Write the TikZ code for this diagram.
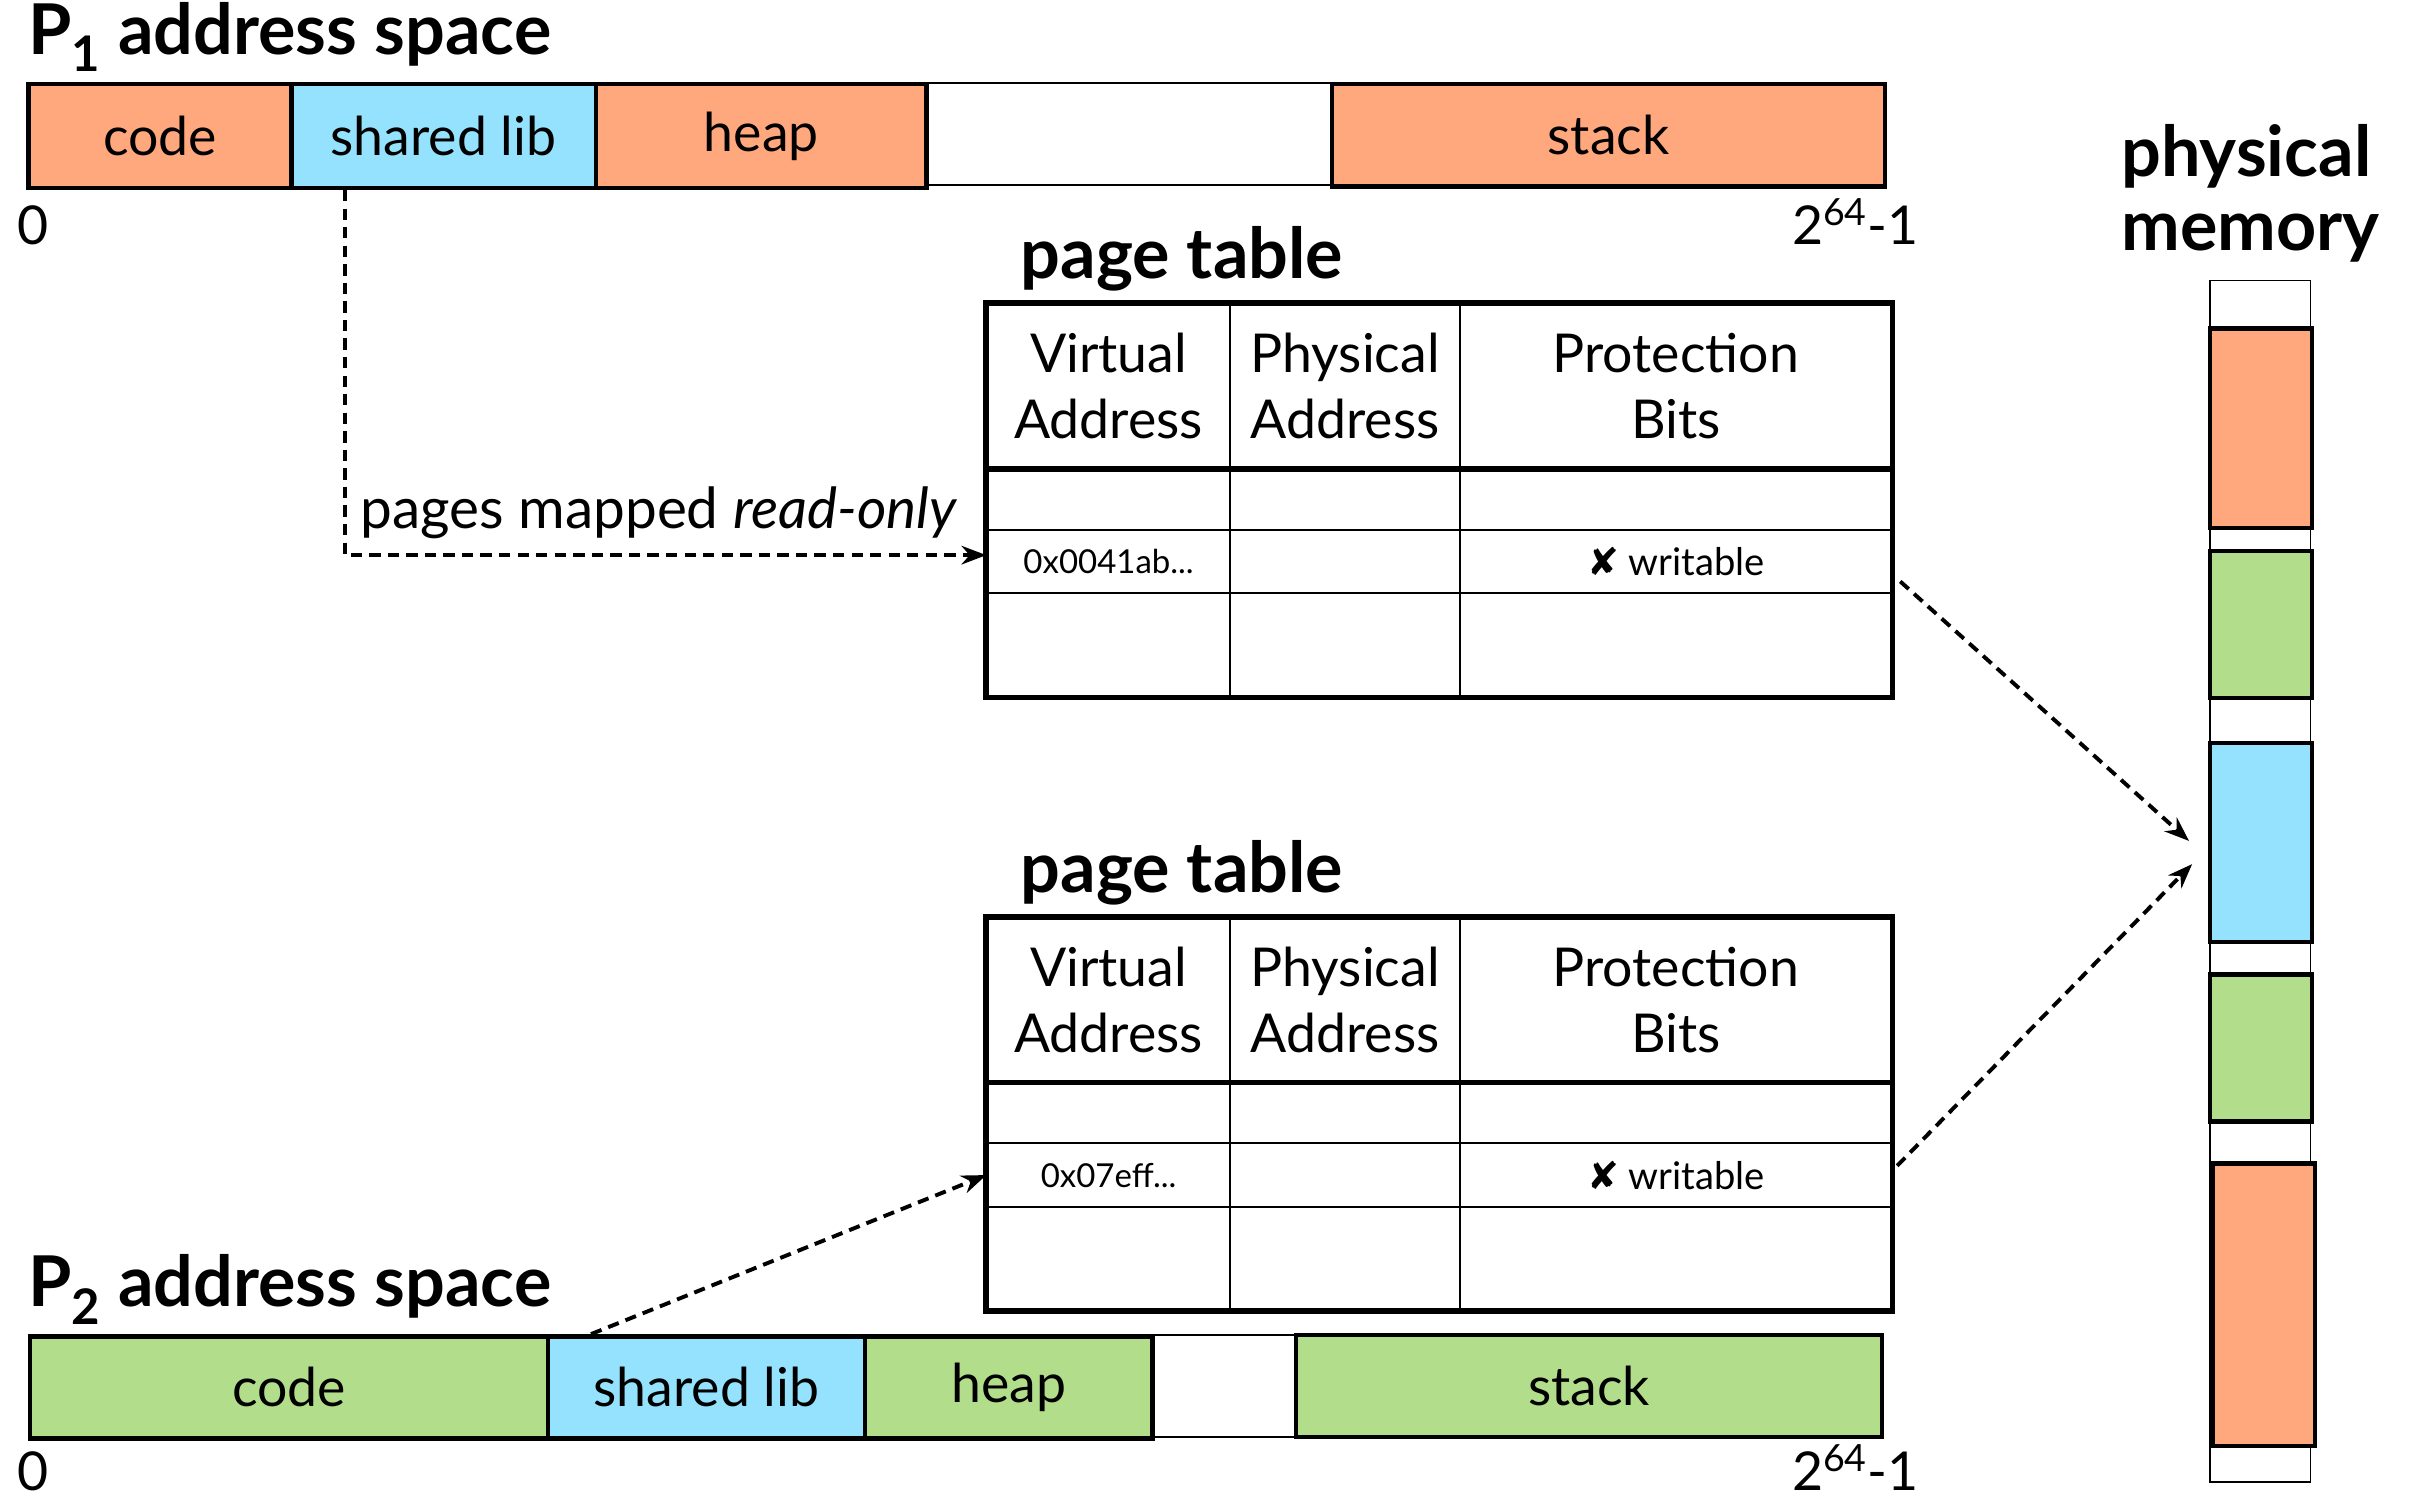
\documentclass[tikz,border=0pt]{standalone}
\usepackage{fontspec}
\setmainfont{Lato}
\newfontfamily\symfont{DejaVu Sans}
\usetikzlibrary{arrows.meta}
\definecolor{cOrange}{HTML}{FFA77D}
\definecolor{cBlue}{HTML}{94E2FD}
\definecolor{cGreen}{HTML}{B2DE8C}
\newcommand\ptable[3]{%
  \begin{scope}[shift={(0,#2)}]
    \node[cell, wd=157, ht=106] (#1h1) at (638,196) {Virtual\\Address};
    \node[cell, wd=149, ht=106] (#1h2) at (795,196) {Physical\\Address};
    \node[cell, wd=279, ht=106] (#1h3) at (944,196) {Protection\\Bits};
    \node[cell, wd=157, ht=40] (#1r1c1) at (638,302) {};
    \node[cell, wd=149, ht=40] (#1r1c2) at (795,302) {};
    \node[cell, wd=279, ht=40] (#1r1c3) at (944,302) {};
    \node[cell, wd=157, ht=41, font=\addrfont] (#1r2c1) at (638,342) {#3};
    \node[cell, wd=149, ht=41] (#1r2c2) at (795,342) {};
    \node[cell, wd=279, ht=41, font=\protfont] (#1r2c3) at (944,342) {{\symfont\bfseries ✘} writable};
    \node[cell, wd=157, ht=67] (#1r3c1) at (638,383) {};
    \node[cell, wd=149, ht=67] (#1r3c2) at (795,383) {};
    \node[cell, wd=279, ht=67] (#1r3c3) at (944,383) {};
    \draw[line width=2.8pt] (#1h1.north west) rectangle (#1r3c3.south east);
    \draw[line width=2.8pt] (#1h1.south west) -- (#1h3.south east);
    \node[titletext, anchor=base west] (#1title) at (660,180) {page table};
  \end{scope}}
\newcommand\addrfont{\fontsize{16}{19}\selectfont}
\newcommand\protfont{\fontsize{18.5}{22}\selectfont}
\begin{document}
\begin{tikzpicture}[x=0.75pt,y=-0.75pt,
  wd/.style={minimum width=#1*0.75pt},
  ht/.style={minimum height=#1*0.75pt},
  seg/.style={draw, line width=2.2pt, inner sep=0pt, anchor=north west, font=\fontsize{26}{30}\selectfont},
  gapbox/.style={draw, line width=0.8pt, inner sep=0pt, anchor=north west},
  cell/.style={draw, line width=0.9pt, inner sep=0pt, anchor=north west, align=center, font=\fontsize{26}{32}\selectfont},
  titletext/.style={inner sep=0pt, font=\bfseries\fontsize{34}{37}\selectfont},
  numtext/.style={inner sep=0pt, font=\fontsize{26}{30}\selectfont},
  pmbox/.style={draw, line width=2.2pt, inner sep=0pt, anchor=north west, wd=66},
  dasharrow/.style={line width=1.9pt, dash pattern=on 5.5pt off 3.5pt, -{Stealth[length=12pt,width=9pt]}}]
\useasboundingbox (0,0) rectangle (1568,972);
% P1 address space
\node[titletext, anchor=base west] (p1title) at (18,35) {P\textsubscript{1} address space};
\node[gapbox, wd=262, ht=66] (gap1) at (598,53) {};
\node[seg, fill=cOrange, wd=170, ht=67] (code1) at (17,53) {code};
\node[seg, fill=cBlue, wd=197, ht=67] (sl1) at (187,53) {shared lib};
\node[seg, fill=cOrange, wd=214, ht=67] (heap1) at (384,53) {heap};
\node[seg, fill=cOrange, wd=358, ht=66] (stack1) at (860,53) {stack};
\node[numtext, anchor=base west] (zero1) at (11,158) {0};
\node[numtext, anchor=base west] (max1) at (1159,158) {2\textsuperscript{64}-1};
% P2 address space
\node[titletext, anchor=base west] (p2title) at (18,845) {P\textsubscript{2} address space};
\node[gapbox, wd=93, ht=66] (gap2) at (744,863) {};
\node[seg, fill=cGreen, wd=335, ht=66] (code2) at (18,863) {code};
\node[seg, fill=cBlue, wd=205, ht=66] (sl2) at (353,863) {shared lib};
\node[seg, fill=cGreen, wd=186, ht=66] (heap2) at (558,863) {heap};
\node[seg, fill=cGreen, wd=379, ht=66] (stack2) at (837,862) {stack};
\node[numtext, anchor=base west] (zero2) at (11,964) {0};
\node[numtext, anchor=base west] (max2) at (1159,964) {2\textsuperscript{64}-1};
% page tables
\ptable{t1}{0}{0x0041ab...}
\ptable{t2}{397}{0x07eff...}
% physical memory
\node[titletext, anchor=north west, align=left, font=\bfseries\fontsize{34}{36}\selectfont] (pmtitle) at (1372,80) {physical\\memory};
\node[gapbox, wd=65, ht=777] (pm) at (1429,181) {};
\node[pmbox, fill=cOrange, ht=129] (pmO1) at (1428,211) {};
\node[pmbox, fill=cGreen, ht=95] (pmG1) at (1428,355) {};
\node[pmbox, fill=cBlue, ht=129] (pmB) at (1428,479) {};
\node[pmbox, fill=cGreen, ht=95] (pmG2) at (1428,629) {};
\node[pmbox, fill=cOrange, ht=183] (pmO2) at (1430,751) {};
% connectors
\draw[dasharrow] ([xshift=-48pt]sl1.south) |- ([yshift=3pt]t1r2c1.west);
\node[inner sep=0pt, anchor=base west, font=\fontsize{27.5}{31}\selectfont] (rolabel) at (233,342) {pages mapped \textit{read-only}};
\draw[dasharrow] ([xshift=-56pt]sl2.north) -- (t2r2c1.west);
\draw[dasharrow] ([shift={(5,13)}]t1r2c3.east) -- ([shift={(-12,-1)}]pmB.west);
\draw[dasharrow] ([shift={(3,-6)}]t2r2c3.east) -- ([shift={(-10,14)}]pmB.west);
\end{tikzpicture}
\end{document}
